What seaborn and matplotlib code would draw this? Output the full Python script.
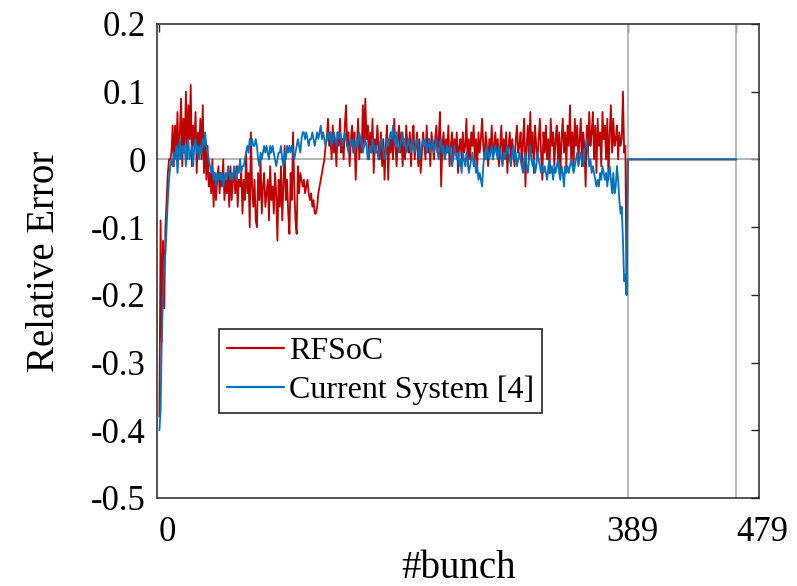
import numpy as np
import pandas as pd
import seaborn as sns
import matplotlib
matplotlib.use("Agg")
import matplotlib.pyplot as plt
from matplotlib.transforms import ScaledTranslation

# ---------------- data ----------------
rfsoc = [
    -0.38, -0.09, -0.27, -0.12, -0.22, -0.10, -0.06, -0.02, 0.00, 0.00,
    0.01, 0.05, -0.01, 0.05, 0.01, 0.07, 0.00, 0.04, 0.09, -0.01,
    0.06, 0.02, 0.10, 0.00, 0.08, 0.03, 0.11, -0.01, 0.05, 0.02,
    0.07, -0.02, 0.04, 0.01, 0.06, 0.00, 0.08, -0.02, 0.03, -0.03,
    0.02, -0.04, -0.02, -0.05, 0.00, -0.07, -0.02, -0.06, -0.03, -0.01,
    -0.05, -0.02, -0.04, 0.00, -0.06, -0.03, -0.05, -0.02, -0.07, -0.01,
    -0.06, -0.03, -0.02, -0.05, -0.01, -0.07, -0.03, -0.04, -0.02, -0.08,
    -0.03, -0.06, 0.01, -0.05, -0.02, -0.10, 0.04, -0.04, -0.07, -0.03,
    -0.09, -0.10, -0.02, -0.06, 0.00, -0.08, -0.04, -0.02, -0.07, -0.05,
    -0.03, -0.09, -0.01, -0.06, -0.04, -0.08, -0.02, -0.05, -0.12, -0.03,
    -0.07, -0.01, -0.09, -0.04, 0.02, -0.06, -0.03, -0.08, -0.11, -0.02,
    -0.06, 0.04, -0.04, -0.09, -0.11, -0.01, -0.05, -0.02, -0.03, -0.04,
    -0.03, -0.05, -0.04, -0.03, -0.05, -0.06, -0.05, -0.07, -0.06, -0.08,
    -0.08, -0.07, -0.05, -0.04, -0.03, -0.02, -0.01, 0.00, 0.02, 0.03,
    0.06, 0.02, 0.04, 0.00, 0.05, 0.01, 0.03, -0.01, 0.04, 0.02,
    0.06, 0.01, 0.03, 0.00, 0.05, 0.08, 0.02, 0.04, -0.01, 0.03,
    0.05, 0.01, 0.04, -0.03, 0.02, 0.06, 0.00, 0.03, 0.01, 0.08,
    0.02, 0.09, 0.03, 0.05, 0.00, 0.04, 0.01, 0.06, -0.02, 0.03,
    0.01, 0.05, 0.02, 0.00, 0.04, -0.01, 0.03, -0.03, 0.02, 0.05,
    -0.03, 0.03, 0.01, 0.04, 0.00, 0.06, 0.02, -0.01, 0.03, 0.05,
    0.01, 0.04, -0.01, 0.03, 0.00, 0.05, 0.02, 0.01, 0.04, -0.01,
    0.03, 0.05, 0.00, 0.02, 0.04, -0.01, 0.03, -0.02, 0.01, 0.04,
    0.02, 0.00, 0.05, 0.01, 0.03, -0.01, 0.04, 0.02, 0.00, 0.03,
    0.05, 0.01, 0.03, 0.07, -0.04, 0.02, 0.04, 0.00, 0.03, 0.01,
    0.05, -0.01, 0.02, 0.04, 0.00, 0.03, 0.01, 0.04, -0.02, 0.02,
    0.03, 0.00, 0.04, 0.01, 0.02, 0.06, -0.01, 0.03, 0.00, 0.04,
    0.02, 0.05, 0.00, 0.03, -0.01, 0.04, 0.01, 0.03, 0.06, 0.02,
    0.00, 0.04, 0.02, -0.01, 0.03, 0.01, 0.05, 0.00, 0.02, 0.04,
    0.01, 0.03, -0.01, 0.02, 0.05, 0.00, 0.03, 0.01, 0.04, -0.02,
    0.02, 0.04, 0.00, 0.03, 0.01, -0.01, 0.03, 0.05, 0.01, 0.02,
    0.04, -0.01, 0.03, 0.06, -0.04, 0.02, 0.05, 0.00, 0.07, 0.01,
    0.04, -0.02, 0.05, 0.02, 0.00, 0.03, 0.06, 0.01, -0.03, 0.04,
    0.01, 0.05, 0.00, 0.03, -0.02, 0.06, 0.02, 0.04, -0.01, 0.03,
    0.05, 0.00, 0.04, -0.02, 0.03, 0.06, 0.01, 0.04, -0.01, 0.05,
    0.02, 0.08, 0.00, 0.04, -0.01, 0.06, 0.02, 0.05, 0.00, 0.03,
    0.06, -0.01, 0.04, 0.02, -0.04, 0.05, 0.01, 0.07, 0.02, 0.04,
    0.07, 0.00, 0.05, -0.02, 0.06, 0.02, 0.04, -0.01, 0.07, 0.03,
    0.05, 0.00, 0.06, -0.03, 0.04, 0.08, 0.01, 0.06, 0.02, 0.03,
    0.05, 0.00, 0.04, 0.02, 0.03, 0.10, 0.01, 0.02, -0.20,
]

current = [
    -0.40, -0.37, -0.26, -0.20, -0.15, -0.14, -0.10, -0.06, -0.03, -0.01,
    0.00, -0.01, 0.01, 0.00, 0.02, -0.02, 0.01, 0.03, 0.00, 0.02,
    0.01, 0.02, -0.01, 0.02, 0.03, 0.00, 0.01, 0.02, -0.01, 0.02,
    0.03, 0.01, 0.02, 0.00, 0.02, 0.01, 0.03, 0.02, 0.04, 0.02,
    0.01, 0.00, -0.01, -0.02, -0.01, -0.03, -0.02, -0.04, -0.02, -0.03,
    -0.02, -0.03, -0.02, -0.04, -0.03, -0.02, -0.03, -0.01, -0.02, -0.03,
    -0.02, -0.03, -0.01, -0.02, -0.03, -0.01, -0.02, 0.00, -0.02, -0.01,
    -0.01, 0.00, 0.01, 0.02, 0.01, 0.03, 0.02, 0.03, 0.02, 0.02,
    0.03, 0.02, 0.00, -0.01, 0.01, 0.00, 0.01, 0.02, 0.01, 0.02,
    0.01, 0.00, 0.02, 0.01, 0.02, 0.01, 0.00, -0.01, 0.00, 0.01,
    0.01, 0.02, 0.00, -0.01, 0.01, 0.00, 0.02, 0.01, 0.02, 0.01,
    0.02, 0.01, 0.00, 0.01, 0.02, 0.03, 0.02, 0.01, 0.03, 0.04,
    0.04, 0.03, 0.04, 0.03, 0.02, 0.03, 0.03, 0.04, 0.03, 0.02,
    0.03, 0.04, 0.03, 0.04, 0.05, 0.03, 0.04, 0.03, 0.02, 0.03,
    0.04, 0.03, 0.04, 0.02, 0.03, 0.04, 0.03, 0.02, 0.04, 0.03,
    0.04, 0.03, 0.02, 0.03, 0.04, 0.03, 0.02, 0.01, 0.02, 0.03,
    0.02, 0.03, 0.01, 0.02, 0.03, 0.02, 0.04, 0.03, 0.02, 0.01,
    0.02, 0.03, 0.02, 0.00, 0.01, 0.02, 0.01, 0.03, 0.02, 0.01,
    0.02, 0.01, 0.00, 0.02, 0.03, 0.02, 0.01, 0.00, 0.01, 0.03,
    0.02, 0.03, 0.04, 0.03, 0.05, 0.03, 0.02, 0.04, 0.02, 0.01,
    0.02, 0.03, 0.04, 0.02, 0.03, 0.01, 0.02, 0.03, 0.02, 0.01,
    0.03, 0.02, 0.01, 0.02, 0.03, 0.02, 0.00, 0.01, 0.02, 0.03,
    0.02, 0.03, 0.01, 0.02, 0.03, 0.01, 0.02, 0.03, 0.01, 0.02,
    0.03, 0.01, 0.00, 0.02, 0.03, 0.01, 0.02, 0.00, 0.01, 0.02,
    0.01, 0.02, 0.01, -0.01, 0.00, 0.02, 0.01, 0.00, 0.01, -0.01,
    0.00, -0.02, 0.01, 0.00, -0.01, 0.01, 0.00, -0.02, -0.01, 0.00,
    0.01, -0.01, 0.00, -0.02, -0.01, -0.03, -0.02, -0.03, -0.04, -0.01,
    0.01, 0.00, 0.02, 0.01, 0.00, 0.01, 0.02, 0.00, 0.01, 0.02,
    0.01, 0.00, 0.02, 0.01, 0.00, -0.01, 0.01, 0.00, 0.01, 0.02,
    0.01, 0.00, -0.01, 0.01, 0.02, 0.00, 0.01, -0.01, 0.00, 0.01,
    0.00, -0.01, -0.02, 0.00, 0.01, -0.01, -0.02, 0.00, 0.02, 0.00,
    -0.01, 0.00, -0.02, -0.01, 0.01, 0.00, -0.01, -0.02, -0.01, -0.02,
    -0.01, -0.02, -0.03, -0.01, 0.00, -0.02, -0.01, -0.03, -0.01, -0.02,
    -0.01, 0.00, -0.02, -0.03, -0.01, -0.02, -0.04, -0.01, -0.02, -0.01,
    -0.02, -0.01, 0.00, -0.01, -0.02, -0.01, 0.00, 0.01, -0.01, 0.00,
    0.01, 0.00, -0.01, 0.01, 0.02, 0.03, 0.01, -0.01, 0.00, -0.02,
    -0.01, -0.02, -0.03, -0.04, -0.03, -0.04, -0.02, -0.03, -0.01, -0.02,
    -0.03, -0.02, -0.04, -0.02, -0.01, -0.03, -0.05, -0.02, -0.05, -0.04,
    -0.01, -0.03, -0.06, -0.08, -0.07, -0.12, -0.18, -0.17, -0.20,
]

# empty buckets after the bunch train (bunches 389..479) have zero error
n_buckets = 480
empty_value = 0.0

series_names = ["RFSoC", "Current System [4]"]
xtick_values = [0, 389, 479]
xtick_labels = ["0", "389", "479"]
ytick_values = [0.2, 0.1, 0.0, -0.1, -0.2, -0.3, -0.4, -0.5]
ytick_labels = ["0.2", "0.1", "0", "-0.1", "-0.2", "-0.3", "-0.4", "-0.5"]
marker_lines = [389, 479]

# ---------------- build table ----------------
def full_series(vals):
    return list(vals) + [empty_value] * (n_buckets - len(vals))

bunch = np.arange(n_buckets)
df = pd.concat([
    pd.DataFrame({"bunch": bunch, "err": full_series(rfsoc), "system": series_names[0]}),
    pd.DataFrame({"bunch": bunch, "err": full_series(current), "system": series_names[1]}),
])

# ---------------- style ----------------
sns.set_theme(style="white")
plt.rcParams["font.family"] = ["Liberation Serif", "DejaVu Serif"]
plt.rcParams["axes.unicode_minus"] = False
plt.rcParams["text.color"] = "black"

W, H, DPI = 797, 586, 100
fig = plt.figure(figsize=(W / DPI, H / DPI), dpi=DPI)
ax_l, ax_r, ax_t, ax_b = 157, 759, 24, 498
ax = fig.add_axes([ax_l / W, 1 - ax_b / H, (ax_r - ax_l) / W, (ax_b - ax_t) / H])

# reference lines
ax.axhline(0, color="#a0a0a0", lw=1.1, zorder=1)
for xv in marker_lines:
    ax.axvline(xv, color="#b3b3b3", lw=1.3, zorder=1)

colors = {series_names[0]: "#C00000", series_names[1]: "#0072BD"}
for name in series_names:
    sub = df[df["system"] == name]
    sns.lineplot(data=sub, x="bunch", y="err", color=colors[name], lw=1.3,
                 label=name, ax=ax, zorder=3, estimator=None, sort=False)

ax.set_xlim(-2, 498)
ax.set_ylim(-0.5, 0.2)
ax.set_xticks(xtick_values)
ax.set_xticklabels(xtick_labels)
ax.set_yticks(ytick_values)
ax.set_yticklabels(ytick_labels)

ax.tick_params(axis="both", direction="in", length=6, width=1.0, color="#262626",
               top=True, right=True, labelsize=25, labelcolor="black")
ax.tick_params(axis="y", pad=8)
ax.tick_params(axis="x", pad=13)

# shift x tick labels to match reference placement
x_shift_px = [8, 5, 26]
for lab, dx in zip(ax.get_xticklabels(), x_shift_px):
    lab.set_transform(lab.get_transform() + ScaledTranslation(dx / DPI, 0, fig.dpi_scale_trans))

for sp in ax.spines.values():
    sp.set_visible(True)
    sp.set_color("#262626")
    sp.set_linewidth(1.1)

ax.set_xlabel("#bunch", fontsize=28, color="black", labelpad=1)
ax.set_ylabel("Relative Error", fontsize=28, color="black", labelpad=20)

leg = ax.legend(loc="upper left", bbox_to_anchor=((219 - ax_l) / (ax_r - ax_l), (ax_b - 329) / (ax_b - ax_t)),
                borderaxespad=0, fontsize=23, frameon=True, fancybox=False, framealpha=1,
                edgecolor="#262626", handlelength=1.8, handletextpad=0.15, borderpad=0.25,
                labelspacing=0.3, labelcolor="black")
leg.get_frame().set_linewidth(1.2)
for h in leg.get_lines():
    h.set_linewidth(1.6)

fig.savefig("out.png", dpi=DPI)
